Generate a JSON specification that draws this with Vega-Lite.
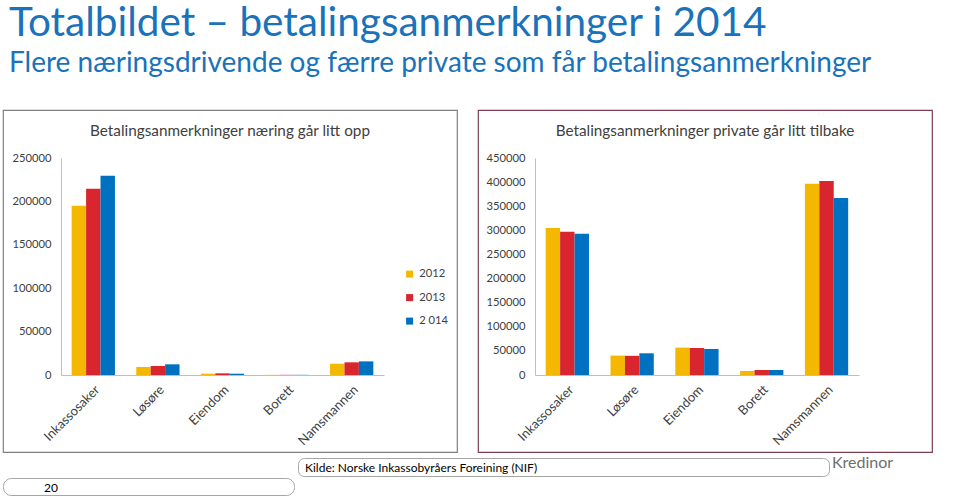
{
  "$schema": "https://vega.github.io/schema/vega-lite/v6.json",
  "background": "white",
  "padding": {"left": 2, "top": 3, "right": 0, "bottom": 0},
  "datasets": {
    "naering": [
      {"category": "Inkassosaker", "year": "2012", "value": 195100},
      {"category": "Inkassosaker", "year": "2013", "value": 214700},
      {"category": "Inkassosaker", "year": "2 014", "value": 229600},
      {"category": "Løsøre", "year": "2012", "value": 9200},
      {"category": "Løsøre", "year": "2013", "value": 10400},
      {"category": "Løsøre", "year": "2 014", "value": 12300},
      {"category": "Eiendom", "year": "2012", "value": 1500},
      {"category": "Eiendom", "year": "2013", "value": 1900},
      {"category": "Eiendom", "year": "2 014", "value": 1500},
      {"category": "Borett", "year": "2012", "value": 150},
      {"category": "Borett", "year": "2013", "value": 200},
      {"category": "Borett", "year": "2 014", "value": 200},
      {"category": "Namsmannen", "year": "2012", "value": 13000},
      {"category": "Namsmannen", "year": "2013", "value": 14600},
      {"category": "Namsmannen", "year": "2 014", "value": 15700}
    ],
    "private": [
      {"category": "Inkassosaker", "year": "2012", "value": 304600},
      {"category": "Inkassosaker", "year": "2013", "value": 297000},
      {"category": "Inkassosaker", "year": "2 014", "value": 292800},
      {"category": "Løsøre", "year": "2012", "value": 40200},
      {"category": "Løsøre", "year": "2013", "value": 39800},
      {"category": "Løsøre", "year": "2 014", "value": 45000},
      {"category": "Eiendom", "year": "2012", "value": 56800},
      {"category": "Eiendom", "year": "2013", "value": 56000},
      {"category": "Eiendom", "year": "2 014", "value": 54000},
      {"category": "Borett", "year": "2012", "value": 8300},
      {"category": "Borett", "year": "2013", "value": 10400},
      {"category": "Borett", "year": "2 014", "value": 10400},
      {"category": "Namsmannen", "year": "2012", "value": 396700},
      {"category": "Namsmannen", "year": "2013", "value": 402200},
      {"category": "Namsmannen", "year": "2 014", "value": 366900}
    ]
  },
  "title": {
    "text": "Totalbildet – betalingsanmerkninger i 2014",
    "subtitle": "Flere næringsdrivende og færre private som får betalingsanmerkninger",
    "anchor": "start",
    "frame": "group",
    "font": "Lato",
    "fontSize": 40.5,
    "fontWeight": "normal",
    "color": "#1A72BB",
    "subtitleFont": "Lato",
    "subtitleFontSize": 28,
    "subtitleColor": "#1A72BB",
    "subtitlePadding": 6,
    "offset": 31,
    "dx": 6
  },
  "spacing": 2,
  "vconcat": [
    {
      "spacing": 19,
      "hconcat": [
        {
          "width": 454,
          "height": 342,
          "view": {"stroke": "#808080", "strokeWidth": 1.2},
          "data": {"name": "naering"},
          "title": {"text": "Betalingsanmerkninger næring går litt opp", "offset": -41, "baseline": "alphabetic", "anchor": "middle", "frame": "group", "font": "Lato", "fontSize": 15.3, "fontWeight": "normal", "color": "#404040"},
          "mark": {"type": "bar"},
          "encoding": {
            "x": {"field": "category", "type": "nominal", "sort": ["Inkassosaker", "Løsøre", "Eiendom", "Borett", "Namsmannen"],
              "scale": {"range": [58, 381], "paddingInner": 0.33, "paddingOuter": 0.165},
              "axis": {"title": null, "offset": -77, "labelAngle": -45, "ticks": false, "domainColor": "#bfbfbf", "labelFont": "Lato", "labelFontSize": 13, "labelColor": "#404040", "labelPadding": 8}},
            "xOffset": {"field": "year", "type": "nominal", "sort": ["2012", "2013", "2 014"]},
            "y": {"field": "value", "type": "quantitative",
              "scale": {"domain": [0, 250000], "range": [265, 48], "nice": false},
              "axis": {"title": null, "offset": -58, "values": [0, 50000, 100000, 150000, 200000, 250000], "format": "d", "ticks": false, "grid": false, "domainColor": "#bfbfbf", "labelFont": "Lato", "labelFontSize": 11.2, "labelColor": "#404040", "labelPadding": 10}},
            "color": {"field": "year", "type": "nominal", "sort": ["2012", "2013", "2 014"],
              "scale": {"domain": ["2012", "2013", "2 014"], "range": ["#F5B800", "#D9262E", "#0070C0"]},
              "legend": {"title": null, "orient": "none", "legendX": 401, "legendY": 158.5, "symbolType": "square", "symbolSize": 49, "symbolStrokeWidth": 0, "labelFont": "Lato", "labelFontSize": 11.2, "labelColor": "#404040", "labelOffset": 4, "rowPadding": 11.5, "padding": 0}}
          }
        },
        {
          "width": 454,
          "height": 342,
          "view": {"stroke": "#7B3F4F", "strokeWidth": 1.2},
          "data": {"name": "private"},
          "title": {"text": "Betalingsanmerkninger private går litt tilbake", "offset": -41, "baseline": "alphabetic", "anchor": "middle", "frame": "group", "font": "Lato", "fontSize": 15.3, "fontWeight": "normal", "color": "#404040"},
          "mark": {"type": "bar"},
          "encoding": {
            "x": {"field": "category", "type": "nominal", "sort": ["Inkassosaker", "Løsøre", "Eiendom", "Borett", "Namsmannen"],
              "scale": {"range": [57, 381], "paddingInner": 0.33, "paddingOuter": 0.165},
              "axis": {"title": null, "offset": -77, "labelAngle": -45, "ticks": false, "domainColor": "#bfbfbf", "labelFont": "Lato", "labelFontSize": 13, "labelColor": "#404040", "labelPadding": 8}},
            "xOffset": {"field": "year", "type": "nominal", "sort": ["2012", "2013", "2 014"]},
            "y": {"field": "value", "type": "quantitative",
              "scale": {"domain": [0, 450000], "range": [265, 48], "nice": false},
              "axis": {"title": null, "offset": -57, "values": [0, 50000, 100000, 150000, 200000, 250000, 300000, 350000, 400000, 450000], "format": "d", "ticks": false, "grid": false, "domainColor": "#bfbfbf", "labelFont": "Lato", "labelFontSize": 11.2, "labelColor": "#404040", "labelPadding": 10}},
            "color": {"field": "year", "type": "nominal", "sort": ["2012", "2013", "2 014"],
              "scale": {"domain": ["2012", "2013", "2 014"], "range": ["#F5B800", "#D9262E", "#0070C0"]},
              "legend": {"title": null, "orient": "none", "legendX": 401, "legendY": 158.5, "symbolType": "square", "symbolSize": 49, "symbolStrokeWidth": 0, "labelFont": "Lato", "labelFontSize": 11.2, "labelColor": "#404040", "labelOffset": 4, "rowPadding": 11.5, "padding": 0}}
          }
        }
      ]
    },
    {
      "spacing": 2,
      "hconcat": [
        {
          "spacing": 0,
          "vconcat": [
            {"width": 291, "height": 19, "data": {"values": []}, "mark": "text", "encoding": {}, "view": {"stroke": null}},
            {"width": 291, "height": 17, "data": {"values": []}, "mark": "text", "encoding": {}, "view": {"stroke": "#a6a6a6", "cornerRadius": 8},
              "title": {"text": "20", "anchor": "start", "frame": "group", "dx": 41, "offset": -26, "baseline": "alphabetic", "font": "Lato", "fontSize": 12, "fontWeight": "normal", "color": "#000000"}}
          ]
        },
        {"width": 531, "height": 18, "data": {"values": []}, "mark": "text", "encoding": {}, "view": {"stroke": "#a6a6a6", "cornerRadius": 6},
          "title": {"text": "Kilde: Norske Inkassobyråers Foreining (NIF)", "anchor": "start", "frame": "group", "dx": 7, "offset": -26, "baseline": "alphabetic", "font": "Lato", "fontSize": 12, "fontWeight": "normal", "color": "#000000"}},
        {"width": 129, "height": 18, "data": {"values": []}, "mark": "text", "encoding": {}, "view": {"stroke": null},
          "title": {"text": "Kredinor", "anchor": "start", "frame": "group", "dx": 0, "offset": -26, "baseline": "alphabetic", "font": "Lato", "fontSize": 16, "fontWeight": "normal", "color": "#6f6f6f"}}
      ]
    }
  ],
  "config": {"view": {"stroke": null}, "font": "Lato"}
}
